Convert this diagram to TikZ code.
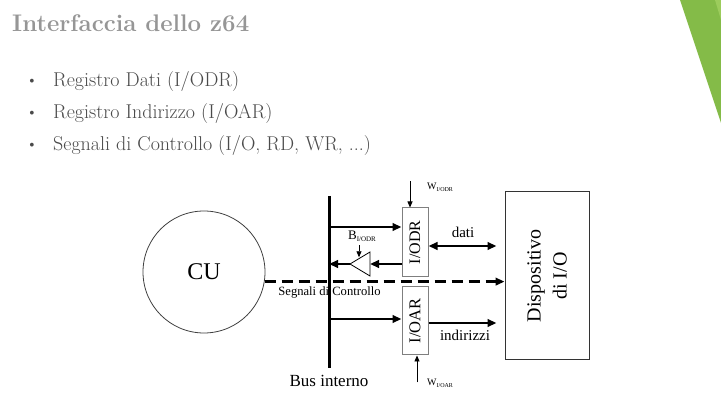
\documentclass[tikz,border=0pt]{standalone}
\usepackage{fontspec}
\newfontfamily\tnr{Liberation Serif}
\usetikzlibrary{arrows.meta, positioning}
\definecolor{titlegray}{HTML}{969696}
\definecolor{textgray}{HTML}{4A4A4A}
\definecolor{slidegreen}{HTML}{84BB48}
\definecolor{lightgreen}{HTML}{9CCC5C}
\definecolor{boxgray}{HTML}{7F7F7F}

\begin{document}
\begin{tikzpicture}[
        x=1pt, y=-1pt,
        every node/.style={inner sep=0pt},
        bigarrow/.style={line width=2.4pt, -{Triangle[length=9pt,width=7.5pt]}},
        bothways/.style={line width=2.4pt, {Triangle[length=9pt,width=7.5pt]}-{Triangle[length=9pt,width=7.5pt]}},
        thinarrow/.style={line width=0.8pt, -{Triangle[length=6pt,width=5pt]}},
        reg/.style={draw=boxgray, line width=1pt, minimum width=26pt, minimum height=69pt},
        item/.style={anchor=base west, text=textgray, font=\fontsize{20}{20}\selectfont},
        dot/.style={anchor=base, text=textgray, font=\fontsize{14}{14}\selectfont},
        lab/.style={font=\tnr\fontsize{15}{15}\selectfont}
    ]
      \useasboundingbox (0,0) rectangle (721,419);
      \fill[white] (0,0) rectangle (721,419);

      % corner decoration
      \fill[slidegreen] (680,0) -- (721,0) -- (721,123) -- cycle;
      \fill[lightgreen] (715,0) -- (721,0) -- (721,20) -- cycle;

      % title and list
      \node[anchor=base west, text=titlegray, font=\fontsize{24}{24}\selectfont\bfseries] (title) at (12,32) {Interfaccia dello z64};
      \node[dot] (d1) at (32,85) {\textbullet};
      \node[item] (i1) at (53,87) {Registro Dati (I/ODR)};
      \node[dot] (d2) at (32,117) {\textbullet};
      \node[item] (i2) at (53,118.5) {Registro Indirizzo (I/OAR)};
      \node[dot] (d3) at (32,149) {\textbullet};
      \node[item] (i3) at (53,151) {Segnali di Controllo (I/O, RD, WR, ...)};

      % diagram
      \node[draw=black!75, circle, minimum size=122pt, line width=0.8pt] (cu) at (204,272) {\tnr\fontsize{24}{24}\selectfont CU};
      \node[reg] (odr) at (415,242.5) {\rotatebox{90}{\tnr\fontsize{16}{16}\selectfont I/ODR}};
      \node[reg, minimum height=68pt] (oar) at (415,321) {\rotatebox{90}{\tnr\fontsize{16.5}{16.5}\selectfont I/OAR}};
      \node[draw=black!80, line width=1pt, minimum width=168pt, minimum height=84pt, rotate=90, align=center,
            font=\tnr\fontsize{20}{26}\selectfont] (dev) at (547,276) {Dispositivo\\di I/O};

      \coordinate (bustop) at (329,196);
      \coordinate (busbot) at (329,368);
      \coordinate (devin) at ([xshift=-8pt]dev.north);

      % control signals
      \draw[line width=2.8pt, dash pattern=on 11pt off 6pt, -{Triangle[length=9pt,width=7.5pt]}] (cu.-9) -- (dev.north |- cu.-9);
      \node[anchor=base, font=\tnr\fontsize{12.6}{12.6}\selectfont] (ctl) at (329.5,296) {Segnali di Controllo};

      \draw[line width=3pt] (bustop) -- (busbot);
      \node[lab, font=\tnr\fontsize{17}{17}\selectfont, below=7pt of busbot] (buslab) {Bus interno};

      % data register
      \draw[bigarrow] (bustop |- 0,227) -- (odr.west |- 0,227);
      \coordinate (buftip) at (350,264);
      \coordinate (buftop) at (370,252);
      \coordinate (bufbot) at (370,276);
      \draw[line width=0.8pt] (buftip) -- (buftop) -- (bufbot) -- cycle;
      \draw[bigarrow] (odr.west |- buftip) -- (buftop |- buftip);
      \draw[bigarrow] (buftip) -- (bustop |- buftip);
      \node[anchor=base, font=\tnr\fontsize{13}{13}\selectfont] (blab) at (362,240) {B\raisebox{-2pt}{\fontsize{7}{7}\selectfont I/ODR}};
      \draw[thinarrow] ([xshift=-3pt,yshift=-3pt]blab.south) -- ++(0,12);
      \draw[bothways] (odr.east |- 0,246) -- (devin |- 0,246);
      \node[lab, anchor=base] (dati) at (463,238) {dati};
      \node[anchor=base west, font=\tnr\fontsize{10}{10}\selectfont] (wodr) at (427,190) {W\raisebox{-1.5pt}{\fontsize{6}{6}\selectfont I/ODR}};
      \coordinate (wodrin) at ([xshift=-5pt,yshift=26pt]odr.north);
      \draw[thinarrow] (wodrin) -- ([xshift=-5pt]odr.north);

      % address register
      \draw[bigarrow] (bustop |- 0,319) -- (oar.west |- 0,319);
      \draw[bigarrow] (oar.east |- 0,323) -- (devin |- 0,323);
      \node[lab, anchor=base] (addr) at (465,341) {indirizzi};
      \node[anchor=base west, font=\tnr\fontsize{10}{10}\selectfont] (woar) at (427,386) {W\raisebox{-1.5pt}{\fontsize{6}{6}\selectfont I/OAR}};
      \coordinate (woarin) at ([xshift=2pt,yshift=-27pt]oar.south);
      \draw[thinarrow] (woarin) -- ([xshift=2pt]oar.south);
    \end{tikzpicture}
\end{document}
